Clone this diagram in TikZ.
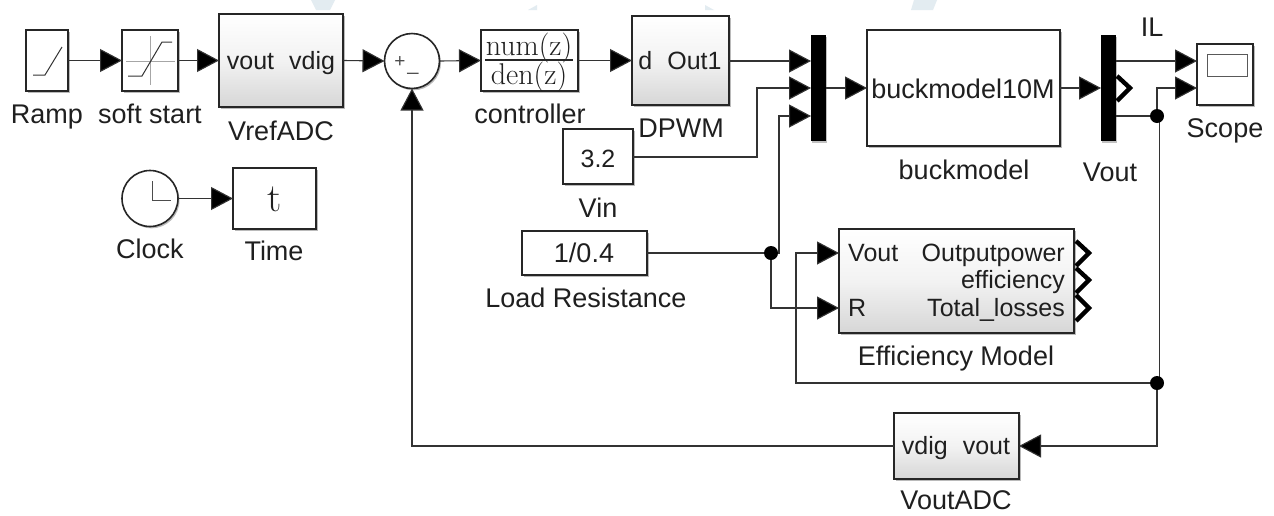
\documentclass[tikz,border=0pt]{standalone}
\usepackage{fontspec}
\setmainfont{Liberation Sans}
\newfontfamily\lmr{Latin Modern Roman}
\usetikzlibrary{arrows.meta,shadows,calc}
\definecolor{wm}{HTML}{E3ECF1}
\definecolor{wire}{HTML}{333333}
\pgfdeclarelayer{front}
\pgfsetlayers{main,front}
\tikzset{
 x=1pt,y=-1pt,
 base/.style={draw=black!85,line width=1.6pt,inner sep=0pt,outer sep=0pt,align=center,
   drop shadow={shadow xshift=1.5pt,shadow yshift=-1.8pt,fill=black!45,opacity=.6}},
 plain/.style={base,fill=white},
 sub/.style={base,top color=white,bottom color=black!16,middle color=white!95!black},
 bar/.style={fill=black,draw=none,inner sep=0pt,outer sep=0pt,drop shadow={shadow xshift=1.2pt,shadow yshift=-1.5pt,fill=black!40,opacity=.6}},
 lab/.style={inner sep=0pt,anchor=base,font=\fontsize{27}{28}\selectfont,text=black!88},
 inner/.style={inner sep=0pt,anchor=base,font=\fontsize{25}{28}\selectfont,text=black!88},
 wireline/.style={draw=wire,line width=1.1pt},
 sig/.style={wireline,-{Triangle[length=22pt,width=23pt,fill=black]}},
 dotj/.style={circle,fill=black,inner sep=0pt,minimum size=14pt},
 chev/.style={draw=black,line width=4.4pt,miter limit=10},
 thin/.style={draw=black!60,line width=1pt},
 tfnum/.style={inner sep=0pt,anchor=base,font=\fontsize{30}{30}\selectfont\lmr,text=black!88},
}
\newcommand{\blk}[6]{\node[#1,minimum width=#4-#3,minimum height=#6-#5] (#2) at ({(#3+#4)/2},{(#5+#6)/2}) {};}
\begin{document}
\begin{tikzpicture}
\useasboundingbox (0,0) rectangle (1274,515);
\fill[white] (0,0) rectangle (1274,515);
% watermark fragments
\fill[wm] (311,0) -- (335,0) -- (330,10) -- (316,10) -- cycle;
\fill[wm] (528,10) -- (537,5) -- (537,10) -- cycle;
\fill[wm] (705,5) -- (714,10) -- (705,10) -- cycle;
\fill[wm] (914,0) -- (937,0) -- (933,10) -- (911,10) -- cycle;
% blocks
\blk{plain}{ramp}{26}{68}{30}{91}
\blk{plain}{soft}{122}{178}{30}{91}
\blk{sub}{vref}{219}{343}{14}{107}
\node[plain,circle,minimum size=55pt] (sum) at (412,61) {};
\blk{plain}{ctrl}{481}{578}{30}{91}
\blk{sub}{dpwm}{632}{729}{16}{105}
\blk{bar}{mux}{811}{826}{35}{141}
\blk{plain}{vin}{563}{633}{129}{184}
\blk{plain}{load}{522}{647}{231}{275}
\blk{plain}{buck}{867}{1060}{30}{146}
\blk{bar}{demux}{1101}{1116}{35}{141}
\blk{plain}{scope}{1197}{1253}{44}{105}
\blk{sub}{eff}{839}{1074}{229}{333}
\blk{sub}{vadc}{894}{1019}{413}{479}
\node[plain,circle,minimum size=56pt] (clock) at (150,198.5) {};
\blk{plain}{time}{233}{316}{168}{229}
% icons
\draw[thin,draw=black!80] (33,75) -- (45,75) -- (62,47);
\draw[thin,draw=black!35] (150,36) -- (150,85) (126,61) -- (175,61);
\draw[thin,draw=black!80] (128,76) -- (142,76) -- (162,42) -- (172,42);
\draw[thin,draw=black!70] (152,181) -- (152,200) -- (171,200);
\draw[thin,fill=white,draw=black!65] (1207,54) rectangle (1247,76);
% block texts
\node[inner sep=0pt,font=\fontsize{19}{19}\selectfont,text=black!70] (sp) at (400,62) {+};
\node[inner sep=0pt,font=\fontsize{20}{20}\selectfont,text=black!70] (sm) at (413,72) {\_};
\node[inner] (t1) at (281,69) {vout\hspace{15pt}vdig};
\node[inner] (t2) at (680,69) {d\hspace{15pt}Out1};
\node[inner] (t3) at (598,167) {3.2};
\node[inner,font=\fontsize{27}{28}\selectfont] (t4) at (584,262) {1/0.4};
\node[lab] (t5) at (963,98) {buckmodel10M};
\node[inner] (t6) at (956,454) {vdig\hspace{15pt}vout};
\node[inner sep=0pt,anchor=base,font=\fontsize{40}{40}\selectfont\lmr,text=black!88] (t7) at (275,211) {t};
\node[tfnum] (tfn) at (529,55) {num(z)};
\node[tfnum] (tfd) at (529,84) {den(z)};
\draw[black!85,line width=1.5pt] (485,60) -- (573,60);
% efficiency text
\node[inner,anchor=base west] (e1) at (848,261) {Vout};
\node[inner,anchor=base west] (e2) at (848,316) {R};
\node[inner,anchor=base east] (e3) at (1065,261) {Outputpower};
\node[inner,anchor=base east] (e4) at (1065,288) {efficiency};
\node[inner,anchor=base east] (e5) at (1065,316) {Total\_losses};
% labels
\node[lab] (l1) at (47,123) {Ramp};
\node[lab] (l2) at (150,123) {soft start};
\node[lab] (l3) at (281,140) {VrefADC};
\node[lab] (l4) at (150,258) {Clock};
\node[lab] (l5) at (274,260) {Time};
\node[lab] (l6) at (530,123) {controller};
\node[lab] (l7) at (681,137) {DPWM};
\node[lab] (l8) at (598,217) {Vin};
\node[lab] (l9) at (586,307) {Load Resistance};
\node[lab] (l10) at (964,179) {buckmodel};
\node[lab] (l11) at (1110,181) {Vout};
\node[lab] (l12) at (1152,36) {IL};
\node[lab] (l13) at (1225,137) {Scope};
\node[lab] (l14) at (956,365) {Efficiency Model};
\node[lab] (l15) at (956,509) {VoutADC};
% junctions
\begin{pgfonlayer}{front}
\node[dotj] (j1) at (771,253) {};
\node[dotj] (j2) at (1157,116) {};
\node[dotj] (j3) at (1157,383) {};
\end{pgfonlayer}
% connectors
\draw[sig] (ramp.east) -- (soft.west);
\draw[sig] (soft.east) -- (vref.west);
\draw[sig] (vref.east) -- (sum.west);
\draw[sig] (sum.east) -- (ctrl.west);
\draw[sig] (ctrl.east) -- (dpwm.west);
\draw[sig] (clock.east) -- (time.west |- clock.east);
\draw[sig] (dpwm.east |- 0,61) -- (mux.west |- 0,61);
\draw[sig] (vin.east |- 0,157) -- (757,157) -- (757,88) -- (mux.west |- 0,88);
\draw[wireline] (load.east) -- (j1);
\draw[sig] (j1.center) -- (779,253) -- (779,116) -- (mux.west |- 0,116);
\draw[sig] (j1.center) -- (771,308) -- (eff.west |- 0,308);
\draw[sig] (mux.east |- 0,88) -- (buck.west |- 0,88);
\draw[sig] (buck.east |- 0,88) -- (demux.west |- 0,88);
\draw[sig] (demux.east |- 0,61) -- (scope.west |- 0,61);
\draw[wireline] (demux.east |- 0,116) -- (j2);
\draw[sig] (j2.center) -- (1157,88) -- (scope.west |- 0,88);
\draw[wireline] ([xshift=2.5pt]j2.center) -- ([xshift=2.5pt]j3.center);
\draw[sig] (j3.center) -- (796,383) -- (796,253) -- (eff.west |- 0,253);
\draw[sig] (j3.center) -- (1157,446) -- (vadc.east |- 0,446);
\draw[sig] (vadc.west |- 0,446) -- (412,446) -- (sum.south);
% chevrons
\draw[chev] (1117,76) -- (1130,88) -- (1117,101);
\draw[chev] (1076,241) -- (1089,253) -- (1076,266);
\draw[chev] (1076,268) -- (1089,280) -- (1076,293);
\draw[chev] (1076,295) -- (1089,308) -- (1076,321);
\end{tikzpicture}
\end{document}
